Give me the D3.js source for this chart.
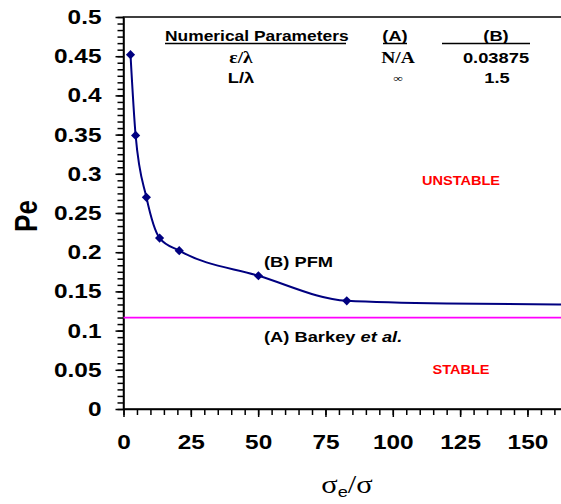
<!DOCTYPE html>
<html>
<head>
<meta charset="utf-8">
<script src="https://cdn.jsdelivr.net/npm/d3@7"></script>
<style>
  html, body { margin: 0; padding: 0; background: #fff; }
  svg { display: block; }
</style>
</head>
<body>
<svg id="chart" width="561" height="504" font-family="'Liberation Sans', Arial, sans-serif"></svg>
<script>
// PFM stability boundary (marked points)
const pfmX = [2.6, 4.5, 8.5, 13.4, 20.7, 50.1, 82.9];
const pfmY = [0.452, 0.349, 0.270, 0.218, 0.202, 0.170, 0.138];
// continuation of the PFM curve beyond the last marked point
const tailX = [120, 175];
const tailY = [0.1345, 0.1332];
// Barkey et al. boundary
const barkeyPe = 0.1165;

const xTickValues = [0, 25, 50, 75, 100, 125, 150, 175];
const xTickLabels = ["0", "25", "50", "75", "100", "125", "150", ""];
const yTickValues = [0, 0.05, 0.1, 0.15, 0.2, 0.25, 0.3, 0.35, 0.4, 0.45, 0.5];
const yTickLabels = ["0", "0.05", "0.1", "0.15", "0.2", "0.25", "0.3", "0.35", "0.4", "0.45", "0.5"];

const paramHeader = ["Numerical Parameters", "(A)", "(B)"];
const paramRows = [
  ["\u03b5/\u03bb", "N/A", "0.03875"],
  ["L/\u03bb", "\u221e", "1.5"]
];

const sans = "'Liberation Sans', Arial, sans-serif";
const serif = "'Liberation Serif', 'DejaVu Serif', serif";

const svg = d3.select("#chart");
const x0 = 123.5, pxPerUnit = 2.693;
const x = d3.scaleLinear().domain([0, 175]).range([x0, x0 + 175 * pxPerUnit]);
const y = d3.scaleLinear().domain([0, 0.5]).range([409, 17]);

const SX = 1.22; // horizontal text stretch

// plot frame (top/right edges)
svg.append("rect")
  .attr("x", x(0)).attr("y", y(0.5))
  .attr("width", x(175) - x(0)).attr("height", y(0) - y(0.5))
  .attr("fill", "none").attr("stroke", "#000").attr("stroke-width", 1.5);

// minor ticks
const yMinor = d3.range(0, 61).map(i => i * 0.05 / 6);
const xMinor = d3.range(0, 36).map(i => i * 5);

svg.append("g").attr("transform", `translate(${x(0)},0)`)
  .call(d3.axisLeft(y).tickValues(yMinor).tickSize(6).tickFormat(""))
  .call(g => g.select(".domain").remove())
  .selectAll("line").attr("stroke-width", 1.5);
svg.append("g").attr("transform", `translate(0,${y(0)})`)
  .call(d3.axisBottom(x).tickValues(xMinor).tickSize(6).tickFormat(""))
  .call(g => g.select(".domain").remove())
  .selectAll("line").attr("stroke-width", 1.5);

// major axes
const yAxis = svg.append("g").attr("transform", `translate(${x(0)},0)`)
  .call(d3.axisLeft(y).tickValues(yTickValues).tickSize(8).tickSizeOuter(0)
    .tickFormat((d, i) => yTickLabels[i]));
const xAxis = svg.append("g").attr("transform", `translate(0,${y(0)})`)
  .call(d3.axisBottom(x).tickValues(xTickValues).tickSize(8).tickSizeOuter(0)
    .tickFormat((d, i) => xTickLabels[i]));

[yAxis, xAxis].forEach(g => {
  g.select(".domain").attr("stroke-width", 1.5);
  g.selectAll(".tick line").attr("stroke-width", 1.5);
  g.selectAll(".tick text")
    .attr("font-family", sans)
    .attr("font-size", 20).attr("font-weight", "bold").attr("fill", "#000");
});
yAxis.selectAll(".tick text").attr("x", -22 / SX).attr("transform", `scale(${SX},1)`);
xAxis.selectAll(".tick text").attr("y", 26).attr("transform", `scale(${SX},1)`);

// axis titles
svg.append("text")
  .attr("transform", `translate(37,216) rotate(-90) scale(1,${SX})`)
  .attr("text-anchor", "middle")
  .attr("font-size", 26).attr("font-weight", "bold").text("Pe");

const xt = svg.append("text")
  .attr("transform", `translate(347,493) scale(${SX},1)`)
  .attr("text-anchor", "middle")
  .attr("font-size", 25);
xt.append("tspan").attr("font-family", serif).text("\u03c3");
xt.append("tspan").attr("font-size", 15).attr("dy", 4).text("e");
xt.append("tspan").attr("dy", -4).attr("font-family", serif).text("/\u03c3");

// Barkey et al. line
svg.append("line")
  .attr("x1", x(0)).attr("x2", x(175))
  .attr("y1", y(barkeyPe)).attr("y2", y(barkeyPe))
  .attr("stroke", "#ff00ff").attr("stroke-width", 1.8);

// PFM curve
const pts = pfmX.map((d, i) => [d, pfmY[i]]);
const allPts = pts.concat(tailX.map((d, i) => [d, tailY[i]]));
svg.append("clipPath").attr("id", "plotclip")
  .append("rect").attr("x", x(0)).attr("y", y(0.5))
  .attr("width", x(175) - x(0)).attr("height", y(0) - y(0.5));
svg.append("path")
  .datum(allPts)
  .attr("clip-path", "url(#plotclip)")
  .attr("d", d3.line().x(d => x(d[0])).y(d => y(d[1])).curve(d3.curveMonotoneX))
  .attr("fill", "none").attr("stroke", "#000080").attr("stroke-width", 2);

svg.append("g").selectAll("path")
  .data(pts).join("path")
  .attr("transform", d => `translate(${x(d[0])},${y(d[1])}) rotate(45)`)
  .attr("d", d3.symbol(d3.symbolSquare, 42))
  .attr("fill", "#000080");

// helper for stretched text
function label(tx, ty, str, opts = {}) {
  const t = svg.append("text")
    .attr("transform", `translate(${tx},${ty}) scale(${opts.sx || SX},1)`)
    .attr("text-anchor", opts.anchor || "middle")
    .attr("font-size", opts.size || 15)
    .attr("font-weight", opts.weight || "bold")
    .attr("font-family", opts.family || sans)
    .attr("fill", opts.fill || "#000");
  t.text(str);
  return t;
}

// parameter table
label(165, 41, paramHeader[0], { anchor: "start", size: 15, sx: 1.16 });
label(395, 41, paramHeader[1], { size: 15 });
label(496, 41, paramHeader[2], { size: 15 });
svg.append("g").selectAll("line")
  .data([[165, 346], [383, 407], [442, 530]])
  .join("line")
  .attr("x1", d => d[0]).attr("x2", d => d[1])
  .attr("y1", 43.5).attr("y2", 43.5)
  .attr("stroke", "#000").attr("stroke-width", 1.5);

label(241, 63, paramRows[0][0], { size: 16, family: serif });
label(398, 63, paramRows[0][1], { size: 16, family: serif });
label(496, 63, paramRows[0][2], { size: 15 });
label(241, 83, paramRows[1][0], { size: 15 });
label(398, 82, paramRows[1][1], { size: 11, weight: "normal", family: serif });
label(497, 83, paramRows[1][2], { size: 15 });

// region and curve labels
label(461, 185, "UNSTABLE", { size: 13, fill: "#ff0000", sx: 1.12 });
label(461, 374, "STABLE", { size: 13, fill: "#ff0000", sx: 1.12 });
label(264, 267, "(B) PFM", { anchor: "start", size: 15 });
const ba = svg.append("text")
  .attr("transform", `translate(264,342) scale(${SX},1)`)
  .attr("font-size", 15).attr("font-weight", "bold");
ba.append("tspan").text("(A) Barkey ");
ba.append("tspan").attr("font-style", "italic").text("et al.");
</script>
</body>
</html>
